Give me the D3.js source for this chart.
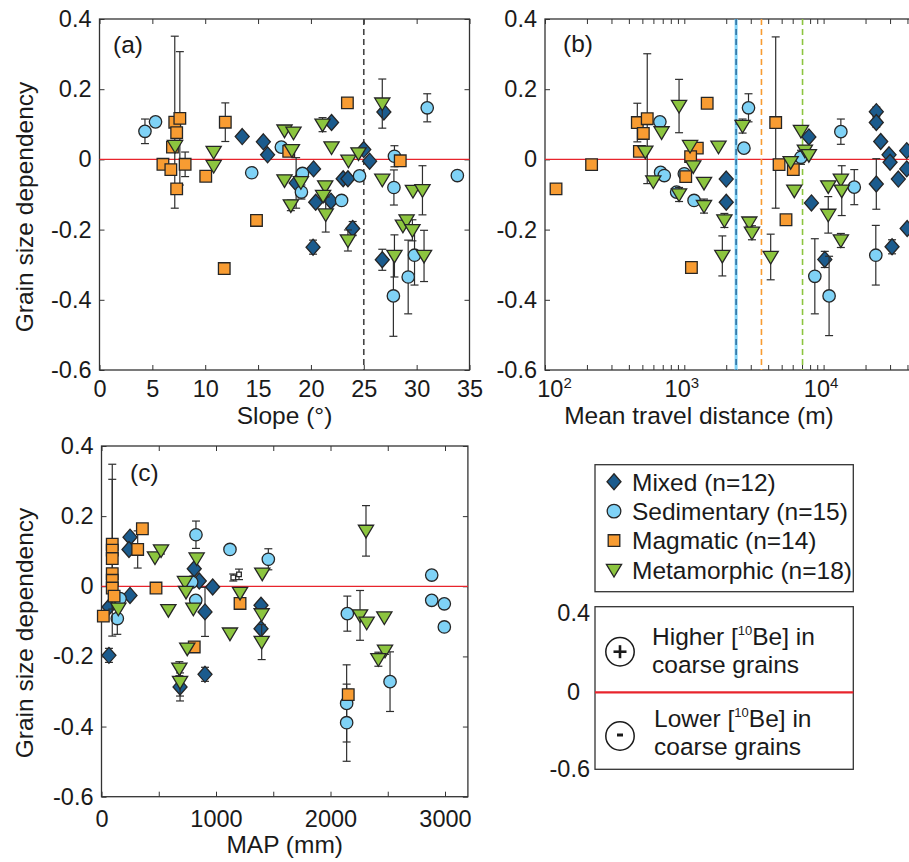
<!DOCTYPE html>
<html><head><meta charset="utf-8">
<script src="https://cdn.jsdelivr.net/npm/d3@7"></script>
<style>
body{margin:0;background:#fff;}
svg{display:block;font-family:"Liberation Sans",Arial,Helvetica,sans-serif;}
</style></head><body>
<svg id="chart" width="909" height="862"></svg>
<script>
// ---------------- DATA ----------------
// each entry: [x, grain size dependency, error half-width]
// Panel (a): slope (degrees)
const slopeMixed = [[13.5,0.065,0],[15.5,0.050,0],[15.9,0.013,0],[18.6,-0.067,0.072],[20.25,-0.027,0],[20.2,-0.250,0.02],[20.45,-0.122,0],[21.95,0.105,0],[21.9,-0.119,0],[23.05,-0.055,0],[23.5,-0.055,0],[23.95,-0.197,0.02],[25.0,0.028,0],[25.55,-0.005,0],[26.9,0.135,0],[26.75,-0.286,0.03]];
const slopeSed = [[4.3,0.080,0.035],[5.3,0.107,0.012],[14.4,-0.038,0],[17.2,0.035,0],[19.2,-0.040,0],[19.1,-0.093,0.02],[22.9,-0.117,0],[24.6,-0.047,0],[27.9,0.009,0.03],[27.85,-0.080,0.05],[27.8,-0.389,0.115],[29.2,-0.335,0.105],[29.8,-0.273,0.085],[31.0,0.147,0.04],[33.85,-0.046,0]];
const slopeMag = [[7.12,0.106,0.245],[7.6,0.117,0.19],[7.3,0.076,0],[6.9,0.035,0],[7.3,-0.084,0],[6.0,-0.014,0],[6.75,-0.029,0],[8.1,-0.014,0.035],[10.05,-0.048,0],[11.9,0.106,0.055],[14.85,-0.174,0.01],[11.8,-0.311,0.015],[23.45,0.161,0],[28.45,-0.004,0],[17.9,0.023,0]];
const slopeMet = [[7.15,0.038,0],[10.8,0.021,0],[10.8,-0.019,0],[17.5,0.082,0],[18.35,0.076,0],[18.2,0.026,0],[17.5,-0.060,0],[19.05,-0.065,0],[18.1,-0.131,0.015],[21.1,0.099,0.02],[21.95,0.034,0],[21.35,-0.077,0],[21.15,-0.104,0],[21.4,-0.157,0.05],[23.5,-0.231,0.03],[23.55,-0.004,0],[24.5,0.017,0],[26.75,0.159,0.07],[26.75,-0.058,0],[27.9,-0.275,0.06],[28.7,-0.189,0],[29.05,-0.174,0],[29.6,-0.202,0.03],[29.65,-0.090,0],[30.55,-0.088,0.07],[30.7,-0.275,0.073]];
const slopeThreshold = 25;

// Panel (b): mean travel distance (m)
const distMixed = [[2000,-0.056,0],[2000,-0.122,0],[7840,0.064,0],[8180,-0.124,0],[10200,-0.285,0.023],[23900,0.136,0.013],[23900,0.105,0.013],[25700,0.051,0],[29500,0.013,0],[30000,-0.008,0],[34400,-0.056,0],[39500,0.025,0],[39500,-0.027,0],[39800,-0.197,0],[23900,-0.070,0.072],[31000,-0.249,0.02]];
const distSed = [[668,0.107,0.01],[676,-0.037,0],[718,-0.046,0],[1000,-0.041,0],[881,-0.093,0.01],[1175,-0.117,0],[2890,0.147,0.04],[2680,0.032,0],[6880,0.006,0.02],[8650,-0.333,0.107],[10950,-0.389,0.113],[13300,0.079,0.036],[16600,-0.079,0.05],[23700,-0.273,0.085]];
const distMag = [[120,-0.084,0],[216,-0.015,0],[460,0.105,0.055],[542,0.116,0.185],[508,0.074,0],[476,0.023,0],[1024,-0.049,0],[1240,0.032,0],[1110,0.008,0],[1460,0.160,0],[1125,-0.308,0.015],[4530,0.105,0.244],[4790,-0.015,0],[6060,-0.029,0],[5370,-0.172,0]];
const distMet = [[525,0.022,0],[599,-0.063,0],[687,0.077,0],[917,0.152,0.076],[917,-0.100,0.02],[1385,-0.133,0.02],[1100,0.038,0],[1160,-0.020,0],[1385,-0.067,0],[1760,0.036,0],[2620,0.095,0.02],[1940,-0.174,0.02],[2930,-0.180,0.01],[3060,-0.209,0.02],[1875,-0.275,0.057],[4170,-0.278,0.065],[5800,-0.008,0],[6160,-0.089,0],[6880,0.081,0],[7340,0.025,0],[7840,0.012,0],[10800,-0.077,0],[10800,-0.158,0.052],[13300,-0.058,0],[13500,-0.089,0.071],[13300,-0.231,0.02]];
const distThresholds = [2355, 3580, 7060]; // mixed/sed, magmatic, metamorphic

// Panel (c): MAP (mm)
const mapMixed = [[249,0.140,0.01],[240,0.105,0],[249,-0.026,0],[65,-0.059,0],[65,-0.197,0.02],[810,0.050,0],[854,0.015,0],[971,-0.002,0],[904,-0.073,0.07],[904,-0.251,0.02],[686,-0.287,0.04],[1393,-0.054,0],[1393,-0.121,0]];
const mapSed = [[825,0.147,0.039],[1122,0.105,0.01],[1457,0.077,0.03],[138,-0.092,0.045],[162,-0.035,0],[823,-0.040,0],[788,0.012,0],[2147,-0.078,0.05],[2141,-0.334,0.11],[2141,-0.389,0.11],[2520,-0.272,0.085],[2884,0.032,0],[2884,-0.040,0],[2994,-0.050,0],[2994,-0.116,0]];
const mapMag = [[94,0.120,0.185],[94,0.103,0.245],[94,0.079,0],[94,0.036,0],[94,0.017,0],[94,-0.005,0],[110,-0.028,0],[16,-0.085,0],[357,0.164,0],[316,0.105,0.053],[476,-0.005,0],[810,-0.173,0],[1210,-0.049,0],[2155,-0.309,0.015]];
const mapMet = [[467,0.082,0],[520,0.102,0.01],[584,-0.068,0],[147,-0.064,0],[831,0.079,0],[729,0.012,0],[738,-0.016,0],[802,-0.064,0],[749,-0.178,0],[680,-0.235,0.02],[686,-0.273,0.04],[1122,-0.135,0],[1210,-0.019,0],[1404,0.036,0],[1399,-0.080,0],[1399,-0.159,0.05],[2310,0.158,0.072],[2258,-0.083,0.071],[2316,-0.104,0],[2470,-0.089,0],[2476,-0.184,0.01],[2418,-0.208,0.02]];
const mapOpen = [[1151,0.025,0.01],[1201,0.034,0.015]];

// ticks / labels
const yTicks = [0.4, 0.2, 0, -0.2, -0.4, -0.6];
const yTickLabels = ["0.4","0.2","0","-0.2","-0.4","-0.6"];
const slopeTicks = [0,5,10,15,20,25,30,35];
const mapTicks = [0,500,1000,1500,2000,2500,3000];
const mapTickLabels = ["0","","1000","","2000","","3000"];
const distMajor = [1e2,1e3,1e4];
const distMinorFactors = [2,3,4,5,6,7,8,9];
const legendLabels = ["Mixed (n=12)","Sedimentary (n=15)","Magmatic (n=14)","Metamorphic (n=18)"];
const insetTickLabels = ["0.4","0","-0.6"];

// ---------------- STYLE ----------------
const FONT = '"Liberation Sans",Arial,Helvetica,sans-serif';
const TICKFS = 23.5, LABFS = 24.5;
const COL = {mixed:"#1b5b8d", sed:"#7fd2f6", mag:"#f89c32", met:"#8cc53f"};
const EDGE = "#262626";
const RED = "#e8242c";
const svg = d3.select("#chart");

const shapes = {
  diamond: (s=1)=>`M0,${-8*s}L${7*s},0L0,${8*s}L${-7*s},0Z`,
  square: (s=1)=>{const h=5.8*s;return `M${-h},${-h}H${h}V${h}H${-h}Z`;},
  tri: (s=1)=>`M${-7.6*s},${-5.6*s}L${7.6*s},${-5.6*s}L0,${7*s}Z`,
  circle: (s=1)=>{const r=6.2*s;return `M${r},0A${r},${r} 0 1,1 ${-r},0A${r},${r} 0 1,1 ${r},0Z`;},
  small: (s=1)=>`M-2.3,-2.3H2.3V2.3H-2.3Z`
};

function styleAxis(sel){
  sel.select(".domain").remove();
  sel.selectAll(".tick line").attr("stroke","#333").attr("stroke-width",1);
  sel.selectAll("text").attr("font-size",TICKFS).attr("fill","#1a1a1a").attr("font-family",FONT);
}

function series(g, x, y, data, shape, fill){
  const s = g.append("g");
  const eb = data.filter(d=>d[2]>0);
  const bar = s.append("g").attr("stroke","#2e2e2e").attr("stroke-width",1.2).attr("fill","none");
  eb.forEach(d=>{
    const cx=x(d[0]), t=y(d[1]+d[2]), b=y(d[1]-d[2]);
    bar.append("line").attr("x1",cx).attr("x2",cx).attr("y1",t).attr("y2",b);
    bar.append("line").attr("x1",cx-4).attr("x2",cx+4).attr("y1",t).attr("y2",t);
    bar.append("line").attr("x1",cx-4).attr("x2",cx+4).attr("y1",b).attr("y2",b);
  });
  s.selectAll("path.m").data(data).join("path").attr("class","m")
    .attr("d",shapes[shape]()).attr("transform",d=>`translate(${x(d[0])},${y(d[1])})`)
    .attr("fill",fill).attr("stroke",EDGE).attr("stroke-width",1.3);
}

function panel(x, y, opts){
  const g = svg.append("g");
  const [x0,x1] = x.range(), [yb,yt] = y.range();
  g.append("g").attr("transform",`translate(${x0},0)`)
    .call(d3.axisLeft(y).tickValues(yTicks).tickFormat((d,i)=>yTickLabels[i]).tickSize(-5).tickPadding(8)).call(styleAxis);
  g.append("g").attr("transform",`translate(${x1},0)`)
    .call(d3.axisRight(y).tickValues(yTicks).tickFormat("").tickSize(-5)).call(styleAxis);
  const bx = d3.axisBottom(x).tickValues(opts.xTicks).tickFormat(opts.xFormat).tickSize(-5).tickPadding(opts.pad);
  const bottom = g.append("g").attr("transform",`translate(0,${yb})`).call(bx).call(styleAxis);
  g.append("g").attr("transform",`translate(0,${yt})`)
    .call(d3.axisTop(x).tickValues(opts.xTicks).tickFormat("").tickSize(-5)).call(styleAxis);
  if(opts.after) opts.after(bottom);
  g.append("rect").attr("x",x0).attr("y",yt).attr("width",x1-x0).attr("height",yb-yt)
    .attr("fill","none").attr("stroke","#333").attr("stroke-width",1.3);
  g.append("line").attr("x1",x0).attr("x2",x1).attr("y1",y(0)).attr("y2",y(0))
    .attr("stroke",RED).attr("stroke-width",1.2);
  if(opts.lines) opts.lines(g, yt, yb);
  series(g,x,y,opts.mixed,"diamond",COL.mixed);
  series(g,x,y,opts.sed,"circle",COL.sed);
  series(g,x,y,opts.mag,"square",COL.mag);
  series(g,x,y,opts.met,"tri",COL.met);
  if(opts.open) series(g,x,y,opts.open,"small","#fff");
  g.append("text").attr("x",opts.letter[0]).attr("y",opts.letter[1]).attr("font-size",LABFS).attr("fill","#1a1a1a").text(opts.letterText);
  g.append("text").attr("x",opts.xTitle[0]).attr("y",opts.xTitle[1]).attr("text-anchor","middle").attr("font-size",LABFS).attr("fill","#1a1a1a").text(opts.xTitleText);
  if(opts.yTitle) g.append("text").attr("transform",`translate(${opts.yTitle[0]},${opts.yTitle[1]}) rotate(-90)`).attr("text-anchor","middle").attr("font-size",LABFS).attr("fill","#1a1a1a").text("Grain size dependency");
}

// Panel (a)
const xA = d3.scaleLinear().domain([0,35]).range([99.5,469.5]);
const yA = d3.scaleLinear().domain([-0.6,0.4]).range([370,19]);
panel(xA, yA, {
  xTicks: slopeTicks, xFormat: d=>String(d), pad: 10,
  mixed: slopeMixed, sed: slopeSed, mag: slopeMag, met: slopeMet,
  letter:[113,53], letterText:"(a)", xTitle:[284.5,424], xTitleText:"Slope (°)", yTitle:[33,207],
  lines:(g,yt,yb)=>{
    g.append("line").attr("x1",xA(slopeThreshold)).attr("x2",xA(slopeThreshold)).attr("y1",yt).attr("y2",yb)
      .attr("stroke","#444").attr("stroke-width",1.6).attr("stroke-dasharray","6,4");
  }
});

// Panel (b)
const xB = d3.scaleLog().domain([100,1e5]).range([545,962.9]);
const distTicks = distMajor.concat(d3.merge(distMajor.map(m=>distMinorFactors.map(f=>f*m))).filter(v=>v<=42000));
const lineCols = [COL.sed, COL.mag, COL.met];
panel(xB, yA, {
  xTicks: distTicks, xFormat: ()=>"", pad: 10,
  mixed: distMixed, sed: distSed, mag: distMag, met: distMet,
  letter:[563,52], letterText:"(b)", xTitle:[699,424], xTitleText:"Mean travel distance (m)",
  after:(bottom)=>{
    bottom.selectAll(".tick").filter(d=>distMajor.includes(d)).each(function(d){
      const t = d3.select(this).select("text");
      const e = Math.round(Math.log10(d));
      t.text(null).attr("dx", d===100 ? "9" : "-3");
      t.append("tspan").text("10");
      t.append("tspan").attr("font-size",15).attr("dy","-0.55em").text(String(e));
    });
  },
  lines:(g,yt,yb)=>{
    distThresholds.forEach((v,i)=>{
      const lx = xB(v);
      if(i===0){
        g.append("line").attr("x1",lx).attr("x2",lx).attr("y1",yt).attr("y2",yb).attr("stroke",COL.sed).attr("stroke-width",3);
        g.append("line").attr("x1",lx).attr("x2",lx).attr("y1",yt).attr("y2",yb).attr("stroke","#2d6c9e").attr("stroke-width",1.5).attr("stroke-dasharray","6,4");
      } else {
        g.append("line").attr("x1",lx).attr("x2",lx).attr("y1",yt).attr("y2",yb).attr("stroke",lineCols[i]).attr("stroke-width",1.6).attr("stroke-dasharray","6,4");
      }
    });
  }
});

// Panel (c)
const xC = d3.scaleLinear().domain([0,3200]).range([101.5,467.9]);
const yC = d3.scaleLinear().domain([-0.6,0.4]).range([796.7,446]);
panel(xC, yC, {
  xTicks: mapTicks, xFormat: (d,i)=>mapTickLabels[i], pad: 14,
  mixed: mapMixed, sed: mapSed, mag: mapMag, met: mapMet, open: mapOpen,
  letter:[130,481], letterText:"(c)", xTitle:[284.7,853], xTitleText:"MAP (mm)", yTitle:[33,633]
});

// ---------------- LEGEND ----------------
const lg = svg.append("g");
lg.append("rect").attr("x",595).attr("y",464.7).attr("width",258.3).attr("height",127)
  .attr("fill","#fff").attr("stroke","#333").attr("stroke-width",1.3);
const legShapes = ["diamond","circle","square","tri"];
const legCols = [COL.mixed, COL.sed, COL.mag, COL.met];
const legY = d3.scalePoint().domain(legendLabels).range([481.7,570]);
legendLabels.forEach((lab,i)=>{
  const yy = legY(lab);
  lg.append("path").attr("d",shapes[legShapes[i]](i===1?1.1:1)).attr("transform",`translate(614,${yy})`)
    .attr("fill",legCols[i]).attr("stroke",EDGE).attr("stroke-width",1.3);
  lg.append("text").attr("x",632).attr("y",yy).attr("dy","0.36em").attr("font-size",LABFS).attr("fill","#1a1a1a").text(lab);
});

// ---------------- INSET ----------------
const ins = svg.append("g");
ins.append("rect").attr("x",595).attr("y",606.7).attr("width",258.3).attr("height",162.6)
  .attr("fill","#fff").attr("stroke","#333").attr("stroke-width",1.3);
ins.append("line").attr("x1",595).attr("x2",853.3).attr("y1",692.3).attr("y2",692.3).attr("stroke",RED).attr("stroke-width",2.2);
[[590,613],[580,692],[590,769]].forEach((p,i)=>{
  ins.append("text").attr("x",p[0]).attr("y",p[1]).attr("dy","0.36em").attr("text-anchor","end").attr("font-size",TICKFS).attr("fill","#1a1a1a").text(insetTickLabels[i]);
});
[[620,651.7],[620,736]].forEach((c,i)=>{
  ins.append("circle").attr("cx",c[0]).attr("cy",c[1]).attr("r",14.2).attr("fill","#fff").attr("stroke","#1a1a1a").attr("stroke-width",1.5);
  if(i===0){
    ins.append("line").attr("x1",c[0]-6.5).attr("x2",c[0]+6.5).attr("y1",c[1]).attr("y2",c[1]).attr("stroke","#1a1a1a").attr("stroke-width",2.6);
    ins.append("line").attr("x1",c[0]).attr("x2",c[0]).attr("y1",c[1]-6.5).attr("y2",c[1]+6.5).attr("stroke","#1a1a1a").attr("stroke-width",2.6);
  } else {
    ins.append("line").attr("x1",c[0]-3).attr("x2",c[0]+3).attr("y1",c[1]-1).attr("y2",c[1]-1).attr("stroke","#1a1a1a").attr("stroke-width",3);
  }
});
function beLine(x,y,word){
  const t = ins.append("text").attr("x",x).attr("y",y).attr("font-size",LABFS).attr("fill","#1a1a1a");
  t.append("tspan").text(word+" [");
  t.append("tspan").attr("font-size",13).attr("dy",-10).text("10");
  t.append("tspan").attr("dy",10).text("Be] in");
}
beLine(652,645,"Higher");
ins.append("text").attr("x",652).attr("y",673).attr("font-size",LABFS).attr("fill","#1a1a1a").text("coarse grains");
beLine(654,727,"Lower");
ins.append("text").attr("x",654).attr("y",755).attr("font-size",LABFS).attr("fill","#1a1a1a").text("coarse grains");
</script>
</body></html>
